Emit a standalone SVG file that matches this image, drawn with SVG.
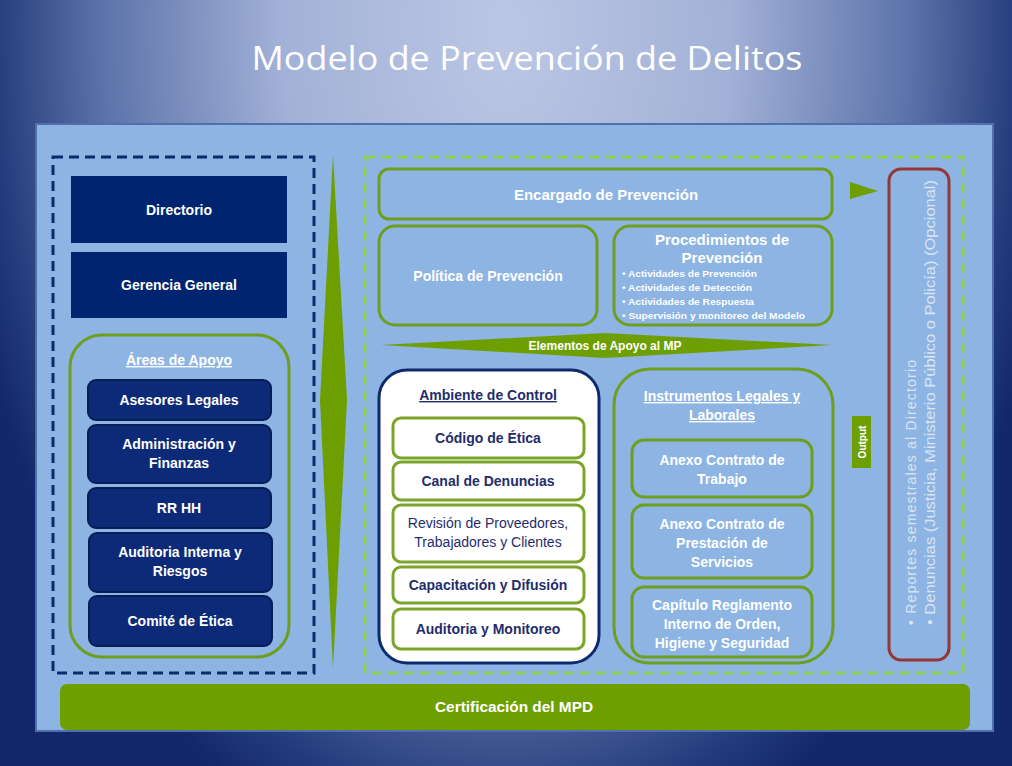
<svg xmlns="http://www.w3.org/2000/svg" width="1012" height="766" viewBox="0 0 1012 766">
<defs>
<radialGradient id="bg" gradientUnits="userSpaceOnUse" cx="0" cy="0" r="1" gradientTransform="translate(506,30) scale(560,860)">
<stop offset="0" stop-color="#bcc7e5"/>
<stop offset="0.4" stop-color="#a2b1d7"/>
<stop offset="0.72" stop-color="#5d73aa"/>
<stop offset="0.92" stop-color="#233b7b"/>
<stop offset="1" stop-color="#13286a"/>
</radialGradient>
<style>
.t{font-family:"Liberation Sans",Arial,sans-serif;font-weight:bold;fill:#ffffff;text-anchor:middle}
.n{fill:#1f2d6b}
.navy{fill:#00246f}
.area{fill:#0c2a78;stroke:#071d55;stroke-width:2}
.gb{fill:none;stroke:#6e9e1e;stroke-width:3}
.gbf{fill:#8db4e2;stroke:#6e9e1e;stroke-width:3}
.wb{fill:#ffffff;stroke:#7aa52a;stroke-width:3}
.gr{fill:#6e9f00}
.bl{font-family:"Liberation Sans",Arial,sans-serif;font-weight:bold;font-size:9.5px;fill:#ffffff}
</style>
</defs>
<rect x="0" y="0" width="1012" height="766" fill="url(#bg)"/>
<text x="527" y="70" font-family="'Open Sans','Noto Sans',sans-serif" font-size="32" fill="#ffffff" text-anchor="middle" textLength="551" lengthAdjust="spacingAndGlyphs">Modelo de Prevención de Delitos</text>

<g id="panel">
<rect x="36" y="124" width="957" height="607" fill="#8db4e2" stroke="#5070ac" stroke-width="2"/>
</g>

<g id="left-group">
<rect x="53" y="157" width="261" height="516" fill="none" stroke="#0e2a6e" stroke-width="3" stroke-dasharray="10,6"/>
</g>

<g id="directorio">
<rect class="navy" x="71" y="176" width="216" height="67"/>
<text class="t" x="179" y="215" font-size="14">Directorio</text>
</g>
<g id="gerencia">
<rect class="navy" x="71" y="252" width="216" height="66"/>
<text class="t" x="179" y="290" font-size="14">Gerencia General</text>
</g>

<g id="areas-apoyo">
<rect class="gb" x="70" y="335" width="219" height="322" rx="32"/>
<text class="t" x="179" y="365" font-size="14" text-decoration="underline">Áreas de Apoyo</text>
</g>
<g id="asesores">
<rect class="area" x="88" y="380" width="183" height="40" rx="8"/>
<text class="t" x="179" y="405" font-size="14">Asesores Legales</text>
</g>
<g id="administracion">
<rect class="area" x="88" y="425" width="183" height="58" rx="8"/>
<text class="t" x="179" y="449" font-size="14">Administración  y</text>
<text class="t" x="179" y="468" font-size="14">Finanzas</text>
</g>
<g id="rrhh">
<rect class="area" x="88" y="488" width="183" height="40" rx="8"/>
<text class="t" x="179" y="513" font-size="14">RR HH</text>
</g>
<g id="auditoria-interna">
<rect class="area" x="89" y="533" width="183" height="59" rx="8"/>
<text class="t" x="180" y="557" font-size="14">Auditoria Interna y</text>
<text class="t" x="180" y="576" font-size="14">Riesgos</text>
</g>
<g id="comite">
<rect class="area" x="89" y="596" width="183" height="50" rx="8"/>
<text class="t" x="180" y="626" font-size="14">Comité de Ética</text>
</g>

<g id="connectors">
<polygon class="gr" points="333,155 347,400 333,668 320,400"/>
<polygon class="gr" points="381,345 605,333 832,345 605,358"/>
<polygon class="gr" points="850,182 878,191 850,199"/>
</g>

<g id="right-group">
<rect x="365" y="157" width="598" height="516" fill="none" stroke="#92d050" stroke-width="3" stroke-dasharray="10,6"/>
</g>

<g id="encargado">
<rect class="gbf" x="379" y="169" width="453" height="50" rx="10"/>
<text class="t" x="606" y="200" font-size="15">Encargado de Prevención</text>
</g>
<g id="politica">
<rect class="gbf" x="379" y="226" width="218" height="99" rx="16"/>
<text class="t" x="488" y="281" font-size="14">Política de Prevención</text>
</g>
<g id="procedimientos">
<rect class="gbf" x="614" y="226" width="218" height="99" rx="16"/>
<text class="t" x="722" y="245" font-size="15">Procedimientos de</text>
<text class="t" x="722" y="263" font-size="15">Prevención</text>
<text class="bl" x="622" y="277" textLength="135" lengthAdjust="spacingAndGlyphs">• Actividades de Prevención</text>
<text class="bl" x="622" y="291" textLength="130" lengthAdjust="spacingAndGlyphs">• Actividades de Detección</text>
<text class="bl" x="622" y="305" textLength="132" lengthAdjust="spacingAndGlyphs">• Actividades de Respuesta</text>
<text class="bl" x="622" y="319" textLength="183" lengthAdjust="spacingAndGlyphs">• Supervisión y monitoreo del Modelo</text>
</g>
<g id="elementos">
<text class="t" x="605" y="350" font-size="12">Elementos  de Apoyo  al MP</text>
</g>

<g id="ambiente">
<rect x="379" y="370" width="220" height="293" rx="28" fill="#ffffff" stroke="#0e2a6e" stroke-width="3"/>
<text class="t n" x="488" y="400" font-size="14" text-decoration="underline">Ambiente  de Control</text>
</g>
<g id="codigo">
<rect class="wb" x="393" y="418" width="191" height="40" rx="8"/>
<text class="t n" x="488" y="443" font-size="14">Código de Ética</text>
</g>
<g id="canal">
<rect class="wb" x="393" y="462" width="191" height="38" rx="8"/>
<text class="t n" x="488" y="486" font-size="14">Canal de Denuncias</text>
</g>
<g id="revision">
<rect class="wb" x="393" y="505" width="191" height="57" rx="8"/>
<text class="t n" x="488" y="528" font-size="14" style="font-weight:normal">Revisión de Proveedores,</text>
<text class="t n" x="488" y="547" font-size="14" style="font-weight:normal">Trabajadores  y  Clientes</text>
</g>
<g id="capacitacion">
<rect class="wb" x="393" y="567" width="191" height="36" rx="8"/>
<text class="t n" x="488" y="590" font-size="14">Capacitación y Difusión</text>
</g>
<g id="auditoria-monitoreo">
<rect class="wb" x="393" y="609" width="191" height="40" rx="8"/>
<text class="t n" x="488" y="634" font-size="14">Auditoria y Monitoreo</text>
</g>

<g id="instrumentos">
<rect class="gb" x="614" y="369" width="219" height="294" rx="36"/>
<text class="t" x="722" y="401" font-size="14" text-decoration="underline">Instrumentos Legales y</text>
<text class="t" x="722" y="420" font-size="14" text-decoration="underline">Laborales</text>
</g>
<g id="anexo-trabajo">
<rect class="gbf" x="632" y="440" width="180" height="57" rx="12"/>
<text class="t" x="722" y="465" font-size="14">Anexo Contrato de</text>
<text class="t" x="722" y="484" font-size="14">Trabajo</text>
</g>
<g id="anexo-servicios">
<rect class="gbf" x="632" y="505" width="180" height="73" rx="12"/>
<text class="t" x="722" y="529" font-size="14">Anexo Contrato de</text>
<text class="t" x="722" y="548" font-size="14">Prestación de</text>
<text class="t" x="722" y="567" font-size="14">Servicios</text>
</g>
<g id="capitulo">
<rect class="gbf" x="632" y="587" width="180" height="70" rx="12"/>
<text class="t" x="722" y="610" font-size="14">Capítulo Reglamento</text>
<text class="t" x="722" y="629" font-size="14">Interno de Orden,</text>
<text class="t" x="722" y="648" font-size="14">Higiene y Seguridad</text>
</g>

<g id="output">
<rect class="gr" x="852" y="416" width="19" height="52"/>
<text class="t" transform="translate(865.5,442) rotate(-90)" font-size="10">Output</text>
</g>

<g id="reportes">
<rect x="889" y="169" width="60" height="491" rx="12" fill="none" stroke="#953735" stroke-width="3"/>
<g font-family="'Liberation Sans',Arial,sans-serif" font-size="14" fill="#dbe4f2">
<text transform="translate(916,625) rotate(-90)" textLength="265" lengthAdjust="spacing">• Reportes  semestrales  al  Directorio</text>
<text transform="translate(935,625) rotate(-90)" textLength="445" lengthAdjust="spacingAndGlyphs">• Denuncias (Justicia, Ministerio Público o Policía) (Opcional)</text>
</g>
</g>

<g id="certificacion">
<rect class="gr" x="60" y="684" width="910" height="46" rx="7"/>
<text class="t" x="514" y="712" font-size="14" textLength="158" lengthAdjust="spacingAndGlyphs">Certificación del MPD</text>
</g>
</svg>
